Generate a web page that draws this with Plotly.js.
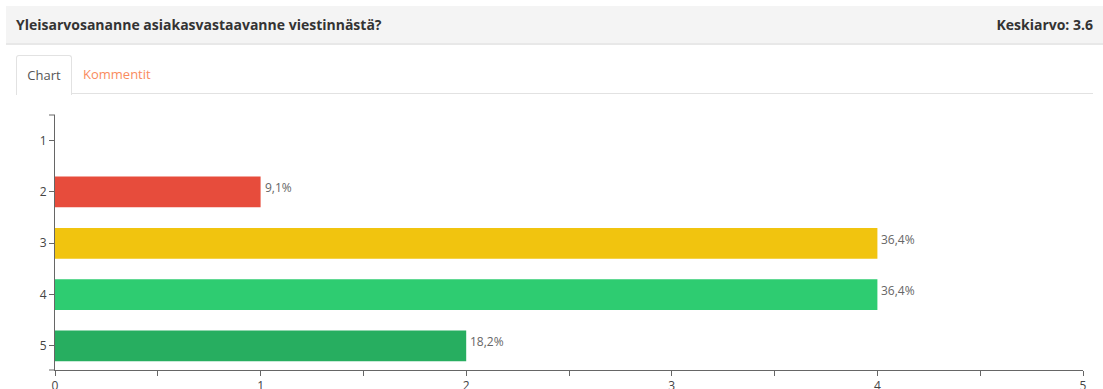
<!DOCTYPE html>
<html>
<head>
<meta charset="utf-8">
<script src="https://cdn.plot.ly/plotly-3.0.1.min.js"></script>
<style>
  html, body { margin: 0; padding: 0; background: #fff; width: 1103px; height: 389px; overflow: hidden; font-family: "Open Sans", sans-serif; }
  #header { position: absolute; left: 6px; top: 6px; width: 1097px; height: 37px; background: #f4f4f4; border-bottom: 2px solid #e8e8e8; }
  #title { position: absolute; left: 10px; top: 0; line-height: 37px; font-size: 14px; font-weight: 700; color: #333; }
  #avg { position: absolute; right: 10px; top: 0; line-height: 37px; font-size: 14px; font-weight: 700; color: #333; }
  #tabline { position: absolute; left: 16px; top: 93px; width: 1077px; height: 1px; background: #e2e2e2; }
  #tab1 { position: absolute; left: 16px; top: 55px; width: 54px; height: 39px; background: #fff; border: 1px solid #e2e2e2; border-bottom: none; border-radius: 3px 3px 0 0; font-size: 13px; color: #555; line-height: 38px; text-align: center; }
  #tab2 { position: absolute; left: 83px; top: 55px; height: 38px; font-size: 13px; color: #f98b5e; line-height: 38px; }
  #chart { position: absolute; left: 0; top: 100px; width: 1103px; height: 289px; }
</style>
</head>
<body>
<div id="header"><div id="title">Yleisarvosananne asiakasvastaavanne viestinnästä?</div><div id="avg">Keskiarvo: 3.6</div></div>
<div id="tabline"></div>
<div id="tab1">Chart</div>
<div id="tab2">Kommentit</div>
<div id="chart"></div>
<script>
const categories = [1, 2, 3, 4, 5];
const counts = [0, 1, 4, 4, 2];
const pctLabels = ["", "9,1%", "36,4%", "36,4%", "18,2%"];
const barColors = ["#e74c3c", "#e74c3c", "#f1c40f", "#2ecc71", "#27ae60"];
const xTicks = [0, 1, 2, 3, 4, 5];

const trace = {
  type: "bar",
  orientation: "h",
  y: categories,
  x: counts,
  width: 0.6,
  marker: { color: barColors, line: { width: 0 } },
  hoverinfo: "none"
};

const annotations = categories.map((c, i) => ({
  x: counts[i],
  y: c,
  xref: "x",
  yref: "y",
  text: pctLabels[i],
  showarrow: false,
  xanchor: "left",
  yanchor: "middle",
  xshift: 2,
  yshift: 4,
  font: { family: "Open Sans", size: 12, color: "#666" }
})).filter(a => a.text !== "");

const layout = {
  width: 1103,
  height: 289,
  margin: { l: 55, r: 20, t: 15, b: 19 },
  paper_bgcolor: "#fff",
  plot_bgcolor: "#fff",
  showlegend: false,
  font: { family: "Open Sans", size: 12, color: "#444" },
  annotations: annotations,
  xaxis: {
    range: [0, 5],
    tickvals: xTicks,
    ticktext: xTicks.map(String),
    ticks: "outside",
    ticklen: 5,
    tickcolor: "#666",
    showline: true,
    linecolor: "#666",
    linewidth: 1,
    showgrid: false,
    zeroline: false,
    tickfont: { size: 12, color: "#444" },
    minor: { dtick: 0.5, tick0: 0, ticks: "outside", ticklen: 5, tickcolor: "#666", showgrid: false }
  },
  yaxis: {
    range: [5.47, 0.5],
    tickvals: categories,
    ticktext: categories.map(String),
    ticks: "outside",
    ticklen: 5,
    tickcolor: "#666",
    showline: true,
    linecolor: "#666",
    linewidth: 1,
    showgrid: false,
    zeroline: false,
    tickfont: { size: 12, color: "#444" }
  },
  shapes: [
    { type: "line", xref: "paper", yref: "paper", x0: -0.0058, x1: 0, y0: 1, y1: 1, line: { color: "#666", width: 1 } },
    { type: "line", xref: "paper", yref: "paper", x0: -0.0058, x1: 0, y0: 0, y1: 0, line: { color: "#666", width: 1 } }
  ]
};

Plotly.newPlot("chart", [trace], layout, { displayModeBar: false, staticPlot: true });
</script>
</body>
</html>
